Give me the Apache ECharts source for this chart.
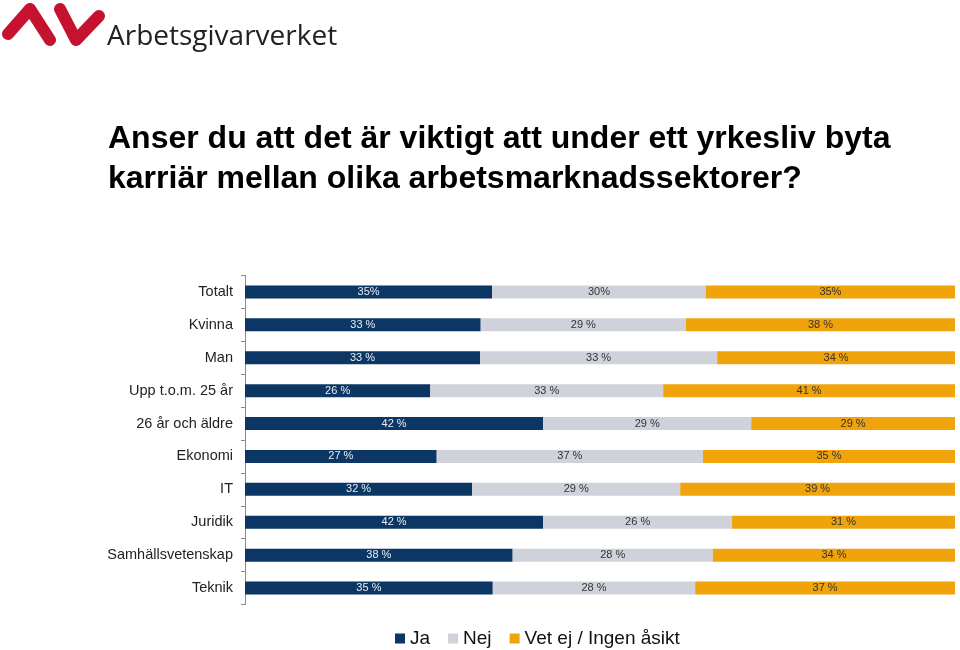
<!DOCTYPE html>
<html><head><meta charset="utf-8">
<script src="https://cdn.jsdelivr.net/npm/echarts@6/dist/echarts.min.js"></script>
<style>html,body{margin:0;padding:0;background:#fff}#c{width:960px;height:650px}</style>
</head><body><div id="c"></div>
<script>
const categories = ["Totalt","Kvinna","Man","Upp t.o.m. 25 år","26 år och äldre","Ekonomi","IT","Juridik","Samhällsvetenskap","Teknik"];
const seriesNames = ["Ja","Nej","Vet ej / Ingen åsikt"];
const jaValues  = [34.8,33.2,33.1,26.1,42.0,27.0,32.0,42.0,37.7,34.9];
const nejValues = [30.1,28.9,33.4,32.8,29.3,37.5,29.3,26.6,28.2,28.5];
const vetValues = [35.1,37.9,33.5,41.1,28.7,35.5,38.7,31.4,34.1,36.6];
const jaLabels  = ["35%","33 %","33 %","26 %","42 %","27 %","32 %","42 %","38 %","35 %"];
const nejLabels = ["30%","29 %","33 %","33 %","29 %","37 %","29 %","26 %","28 %","28 %"];
const vetLabels = ["35%","38 %","34 %","41 %","29 %","35 %","39 %","31 %","34 %","37 %"];
const colors = ["#0c3765","#cfd2da","#f0a30a"];
const labelColors = ["#e8ecf4","#333333","#333333"];

const chart = echarts.init(document.getElementById('c'), null, {renderer:'canvas'});
function mk(i, vals, labs){
  return {
    name: seriesNames[i], type:'bar', stack:'s', barWidth:13,
    itemStyle:{color:colors[i]},
    label:{show:true, position:'inside', fontFamily:'Liberation Sans, Arial, sans-serif', fontSize:11, color:labelColors[i],
      formatter: p => labs[p.dataIndex]},
    data: vals
  };
}
chart.setOption({
  animation:false,
  textStyle:{fontFamily:'Liberation Sans, Arial, sans-serif'},
  title:{
    text:'Anser du att det är viktigt att under ett yrkesliv byta\nkarriär mellan olika arbetsmarknadssektorer?',
    left:108, top:119, padding:0,
    textStyle:{fontSize:32, fontWeight:'bold', color:'#000', lineHeight:40, fontFamily:'Liberation Sans, Arial, sans-serif'}
  },
  graphic:[
    {type:'polyline', shape:{points:[[8,34],[30,9],[50,40]]}, style:{stroke:'#c4122f', lineWidth:12, lineCap:'round', lineJoin:'round', fill:null}},
    {type:'polyline', shape:{points:[[60,9],[76,40],[99,16]]}, style:{stroke:'#c4122f', lineWidth:12, lineCap:'round', lineJoin:'round', fill:null}},
    {type:'text', left:107, top:23, style:{text:'Arbetsgivarverket', fontSize:28, fontFamily:'Open Sans, sans-serif', fill:'#222'}}
  ],
  legend:{
    top:629, left:395, padding:0,
    data:seriesNames, icon:'rect', itemWidth:10, itemHeight:10, itemGap:18,
    textStyle:{fontSize:19, color:'#111', fontFamily:'Liberation Sans, Arial, sans-serif'}
  },
  grid:{left:245, right:5, top:275.5, bottom:45.5, containLabel:false},
  xAxis:{type:'value', min:0, max:100, show:false},
  yAxis:{
    type:'category', data:categories, inverse:true,
    axisLine:{show:true, lineStyle:{color:'#888', width:1}},
    axisTick:{show:true, length:4, lineStyle:{color:'#888'}},
    axisLabel:{fontSize:14.5, color:'#222', margin:12, fontFamily:'Liberation Sans, Arial, sans-serif'}
  },
  series:[mk(0,jaValues,jaLabels), mk(1,nejValues,nejLabels), mk(2,vetValues,vetLabels)]
});
</script></body></html>
